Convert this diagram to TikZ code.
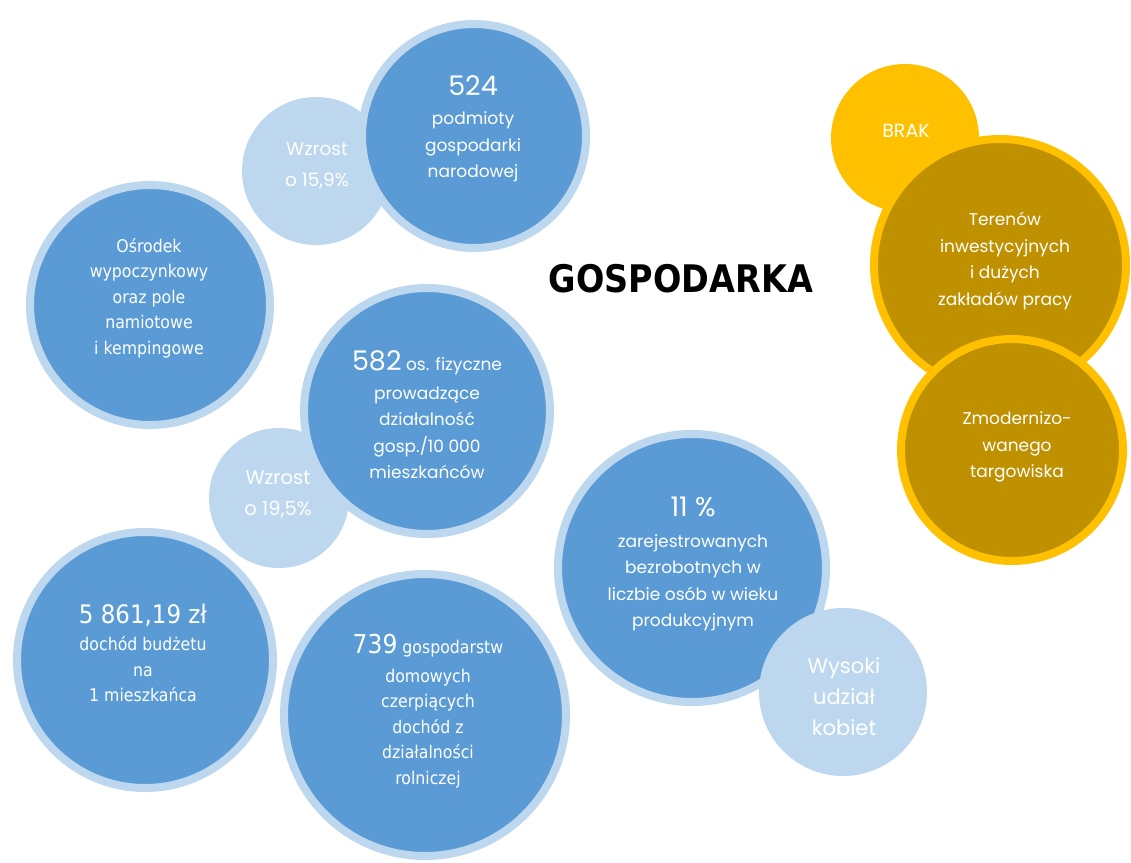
\documentclass[tikz,border=0pt]{standalone}
\usepackage{fontspec}
\setmainfont{DejaVu Sans}
\newfontfamily\geo{Poppins}
\newfontfamily\tah[FakeStretch=0.9]{DejaVu Sans}
\newfontfamily\ttl[FakeStretch=0.88]{DejaVu Sans}
\definecolor{dblue}{HTML}{5B9BD5}
\definecolor{lblue}{HTML}{BDD7EE}
\definecolor{gyel}{HTML}{FFC000}
\definecolor{gdark}{HTML}{BF9000}
\begin{document}
\begin{tikzpicture}[x=1pt,y=-1pt,
  bluec/.style={circle, draw=lblue, fill=dblue, line width=8pt, inner sep=0pt, minimum size=#1},
  lightc/.style={circle, fill=lblue, inner sep=0pt, minimum size=#1},
  goldc/.style={circle, draw=gyel, fill=gdark, line width=8pt, inner sep=0pt, minimum size=#1},
  yelc/.style={circle, fill=gyel, inner sep=0pt, minimum size=#1},
  gtext/.style={text=white, align=center, inner sep=0pt, font={\geo\fontsize{#1}{26.5}\selectfont}},
  ttext/.style={text=white, align=center, inner sep=0pt, font={\tah\fontsize{#1}{25.5}\selectfont}},
  ltext/.style={text=white, align=center, inner sep=0pt, font={\geo\fontsize{#1}{31}\selectfont}}]
\useasboundingbox (0,0) rectangle (1131,862);
\fill[white] (0,0) rectangle (1131,862);

% light circles behind
\node[lightc=148] (w1) at (316,171) {};
\node[lightc=140] (w2) at (279,498) {};

% blue circles
\node[bluec=224] (c524) at (474,136) {};
\node[bluec=240] (osr) at (150,305) {};
\node[bluec=246] (c582) at (427,411) {};
\node[bluec=256] (c5861) at (145,660) {};
\node[bluec=282] (c739) at (425,715) {};
\node[bluec=268] (c11) at (692,568) {};
\node[lightc=168] (wys) at (843,692) {};

% gold circles
\node[yelc=148] (brak) at (905,138) {};
\node[goldc=252] (ter) at (1000,265) {};
\node[goldc=222] (zmo) at (1012,450) {};

% texts
\node[ltext=18.5] (tw1) at (317,166) {Wzrost\\o 15,9\%};
\node[ltext=19.5] (tw2) at (278,495) {Wzrost\\o 19,5\%};
\node[ltext=21] (twys) at (844,697) {Wysoki\\udział\\kobiet};

\node[gtext=17] (t524) at (473,129) {{\fontsize{27}{30}\selectfont 524}\\[3pt]podmioty\\gospodarki\\narodowej};
\node[gtext=17] (t582) at (427,415) {{\fontsize{27}{30}\selectfont 582} os. fizyczne\\[2pt]prowadzące\\działalność\\gosp./10 000\\mieszkańców};
\node[gtext=17] (t11) at (693,564) {{\fontsize{27}{30}\selectfont 11 \%}\\[4pt]zarejestrowanych\\bezrobotnych w\\liczbie osób w wieku\\produkcyjnym};

\node[ttext=17.5] (tosr) at (149,298) {Ośrodek\\wypoczynkowy\\oraz pole\\namiotowe\\i kempingowe};
\node[ttext=17.5] (t5861) at (143,653) {{\fontsize{25.5}{28}\selectfont 5 861,19 zł}\\[2pt]dochód budżetu\\na\\1 mieszkańca};
\node[ttext=17.5] (t739) at (428,711) {{\fontsize{26}{28}\selectfont 739} gospodarstw\\[3pt]domowych\\czerpiących\\dochód z\\działalności\\rolniczej};

\node[text=white, inner sep=0pt, font={\geo\fontsize{19}{22}\selectfont}] (tbrak) at (906,131) {BRAK};
\node[gtext=17] (tter) at (1005,261) {Terenów\\inwestycyjnych\\i dużych\\zakładów pracy};
\node[gtext=17] (tzmo) at (1017,447) {Zmodernizo-\\wanego\\targowiska};

\node[inner sep=0pt, font={\ttl\bfseries\fontsize{38}{40}\selectfont}] (title) at (681,279) {GOSPODARKA};
\end{tikzpicture}
\end{document}
